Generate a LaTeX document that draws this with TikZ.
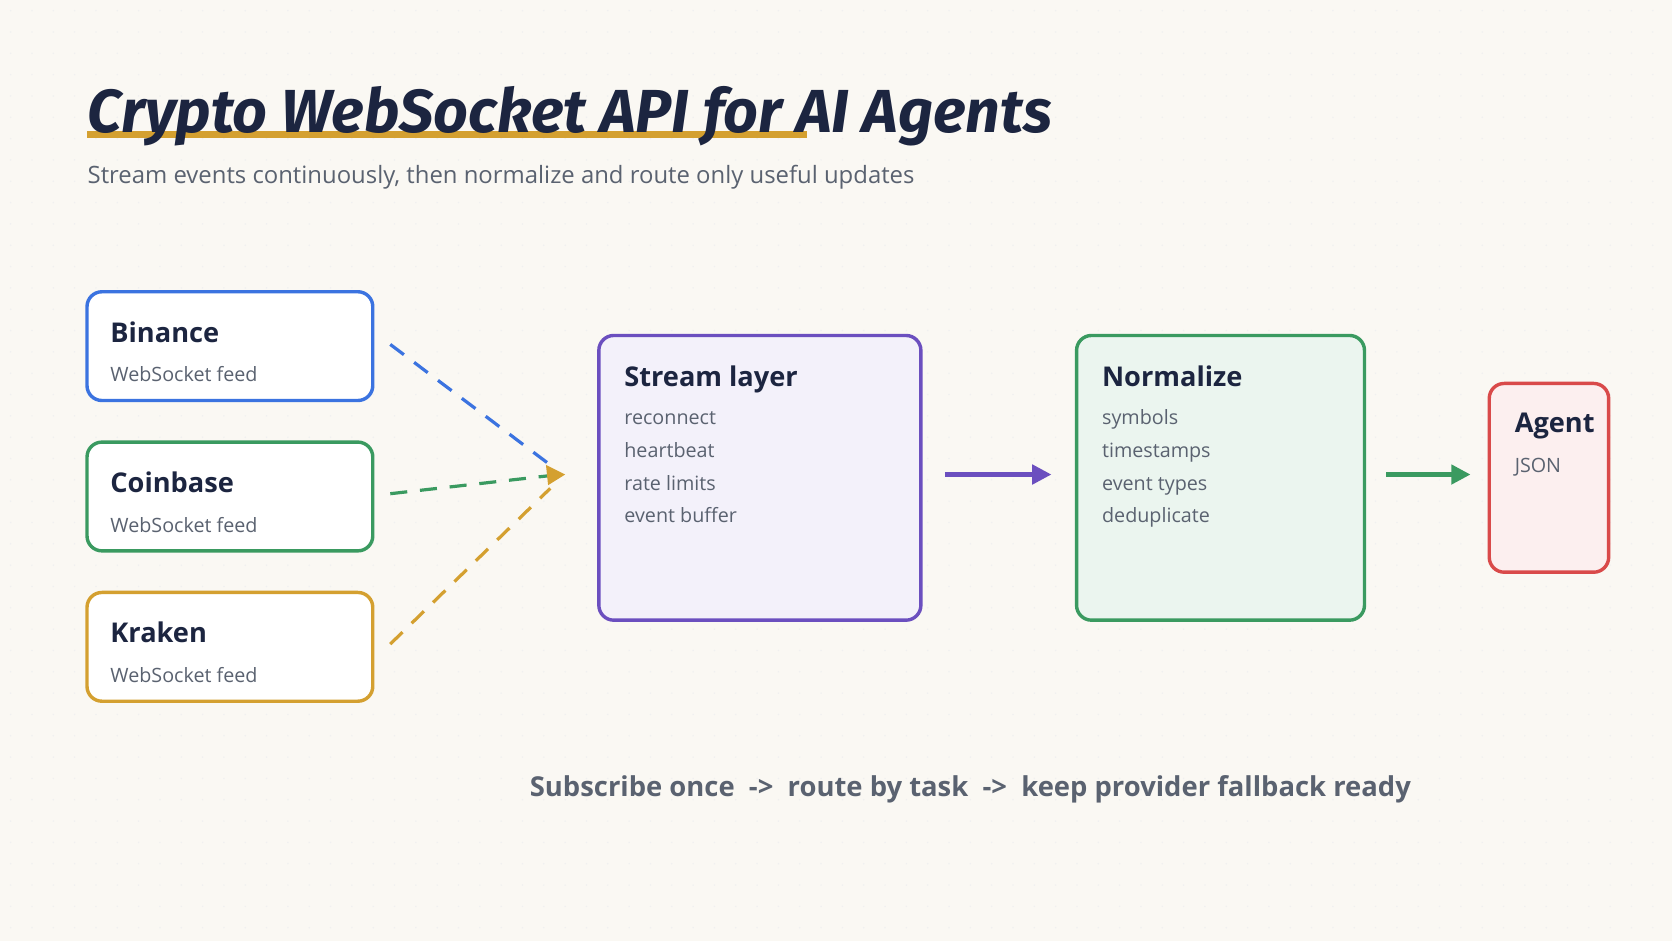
\documentclass[tikz,border=0pt]{standalone}
\usepackage{fontspec}
\setmainfont{Open Sans}
\newfontfamily\titlefont{Fira Sans}
\usetikzlibrary{arrows.meta}
\definecolor{bg}{HTML}{FAF8F3}
\definecolor{ink}{HTML}{1C2540}
\definecolor{sub}{HTML}{5A6270}
\definecolor{cblue}{HTML}{3B73E0}
\definecolor{cgreen}{HTML}{3A9A60}
\definecolor{cgold}{HTML}{D4A030}
\definecolor{cpurple}{HTML}{6B4FBF}
\definecolor{cred}{HTML}{D94A4A}
\tikzset{
 box/.style={draw=#1, line width=3.2pt, rounded corners=14pt, anchor=north west, inner sep=0pt},
 bt/.style={anchor=base west, text=ink, font=\fontsize{25.5}{30}\selectfont\bfseries},
 bs/.style={anchor=base west, text=sub, font=\fontsize{18.5}{22}\selectfont, align=left},
 feed/.style={dashed, dash pattern=on 16pt off 12pt, line width=3pt, #1},
 arr/.style={line width=4pt, #1, -{Triangle[length=18pt,width=18pt]}}
}
\begin{document}
\begin{tikzpicture}[x=1pt,y=-1pt]
\fill[bg] (0,0) rectangle (1568,882);
\useasboundingbox (0,0) rectangle (1568,882);
\foreach \i in {0,...,78}{\foreach \j in {0,...,44}{\fill[black!6] (\i*20+10,\j*20+10) circle (0.8);}}
% title
\fill[cgold] (82,123) rectangle (757,129);
\node[anchor=base west, text=ink, inner sep=0pt] (title) at (82,124) {\titlefont\itshape\bfseries\fontsize{57}{60}\selectfont Crypto WebSocket API for AI Agents};
\node[anchor=base west, text=sub, inner sep=0pt] (subtitle) at (82,172) {\fontsize{22.4}{26}\selectfont Stream events continuously, then normalize and route only useful updates};
% sources
\node[box=cblue, fill=white, minimum width=268pt, minimum height=102pt] (bin) at (80,272) {};
\node[bt] at (100,321) {Binance};
\node[bs] at (100,358) {WebSocket feed};
\node[box=cgreen, fill=white, minimum width=268pt, minimum height=102pt] (coi) at (80,413) {};
\node[bt] at (100,462) {Coinbase};
\node[bs] at (100,499) {WebSocket feed};
\node[box=cgold, fill=white, minimum width=268pt, minimum height=102pt] (kra) at (80,554) {};
\node[bt] at (100,603) {Kraken};
\node[bs] at (100,640) {WebSocket feed};
% stream
\node[box=cpurple, fill=cpurple!8, minimum width=302pt, minimum height=267pt] (str) at (560,313) {};
\node[bt] at (582,362) {Stream layer};
\node[bs] at (582,398) {reconnect};
\node[bs] at (582,429) {heartbeat};
\node[bs] at (582,460) {rate limits};
\node[bs] at (582,490) {event buffer};
% normalize
\node[box=cgreen, fill=cgreen!10, minimum width=270pt, minimum height=267pt] (nor) at (1008,313) {};
\node[bt] at (1030,362) {Normalize};
\node[bs] at (1030,398) {symbols};
\node[bs] at (1030,429) {timestamps};
\node[bs] at (1030,460) {event types};
\node[bs] at (1030,490) {deduplicate};
% agent
\node[box=cred, fill=cred!9, minimum width=112pt, minimum height=177pt] (age) at (1395,358) {};
\node[bt] at (1417,406) {Agent};
\node[bs] at (1417,443) {JSON};
% connectors
\coordinate (tip) at (530,445);
\coordinate (b0) at (366,323);
\coordinate (c0) at (366,463);
\coordinate (k0) at (366,604);
\draw[feed=cblue] (b0) -- (516,436);
\draw[feed=cgreen] (c0) -- (516,446);
\draw[feed=cgold] (k0) -- (516,458);
\fill[cgold] (tip) -- (512,436) -- (514,455) -- cycle;
\coordinate (p0) at (886,445); \coordinate (p1) at (986,445);
\draw[arr=cpurple] (p0) -- (p1);
\coordinate (g0) at (1300,445); \coordinate (g1) at (1379,445);
\draw[arr=cgreen] (g0) -- (g1);
\node[anchor=base, text=sub, inner sep=0pt] (foot) at (910,747) {\fontsize{25.7}{30}\selectfont\bfseries Subscribe once\ \ ->\ \ route by task\ \ ->\ \ keep provider fallback ready};
\end{tikzpicture}
\end{document}
